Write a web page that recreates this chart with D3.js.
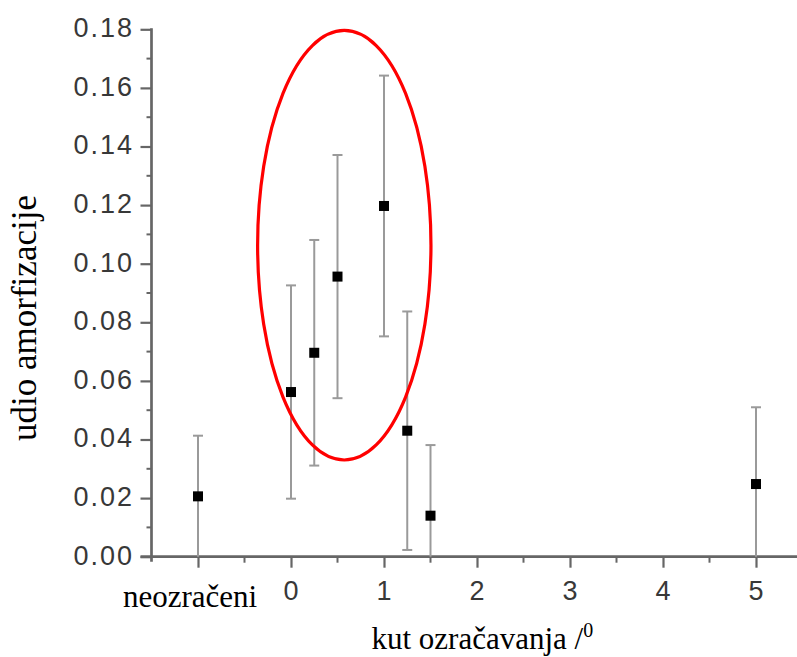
<!DOCTYPE html>
<html>
<head>
<meta charset="utf-8">
<script src="https://cdn.jsdelivr.net/npm/d3@7"></script>
<style>
  html, body { margin: 0; padding: 0; background: #fff; }
  svg { display: block; }
</style>
</head>
<body>
<svg id="chart" width="797" height="657"></svg>
<script>
// ---- data ----
const xValues = [-1, 0, 0.25, 0.5, 1, 1.25, 1.5, 5];
const yValues = [0.0206, 0.0562, 0.0696, 0.0956, 0.1197, 0.0430, 0.0140, 0.0248];
const yErrors = [0.0207, 0.0364, 0.0385, 0.0415, 0.0445, 0.0407, 0.0241, 0.0262];
const xTickValues = [0, 1, 2, 3, 4, 5];
const xTickLabels = ["0", "1", "2", "3", "4", "5"];
const xSpecialTick = -1;
const xSpecialLabel = "neozračeni";
const yTickValues = [0, 0.02, 0.04, 0.06, 0.08, 0.10, 0.12, 0.14, 0.16, 0.18];
const yTickLabels = ["0.00", "0.02", "0.04", "0.06", "0.08", "0.10", "0.12", "0.14", "0.16", "0.18"];
const xAxisTitle = "kut ozračavanja /";
const xAxisTitleSup = "0";
const yAxisTitle = "udio amorfizacije";
// highlighted region (ellipse) in data units: centre x, centre y, radius x, radius y
const ellipseCx = 0.573, ellipseCy = 0.1063, ellipseRx = 0.932, ellipseRy = 0.0733;

// ---- scales ----
const svg = d3.select("#chart");
const x = d3.scaleLinear().domain([-1.5, 5.5]).range([151.5, 802.5]);
const y = d3.scaleLinear().domain([0, 0.18]).range([556.7, 29.3]);

const axisColor = "#666";
const labelColor = "#383838";

// ---- y axis ----
const yAxisG = svg.append("g").attr("transform", `translate(${x(-1.5)},0)`);
yAxisG.call(d3.axisLeft(y).tickValues(yTickValues).tickSize(11).tickFormat(() => ""));
yAxisG.call(g => g.select(".domain").remove());
yAxisG.selectAll(".tick line").attr("stroke", axisColor).attr("stroke-width", 2.2);
// minor ticks
const yMinor = d3.range(0.01, 0.18, 0.02);
yAxisG.selectAll(".minor").data(yMinor).join("line")
  .attr("x1", -5).attr("x2", 0)
  .attr("y1", d => y(d)).attr("y2", d => y(d))
  .attr("stroke", axisColor).attr("stroke-width", 2);
yAxisG.append("line")
  .attr("x1", 0).attr("x2", 0).attr("y1", y(0.18) - 1).attr("y2", y(0) + 5)
  .attr("stroke", axisColor).attr("stroke-width", 2.7);
yAxisG.selectAll(".ylab").data(yTickValues).join("text")
  .attr("x", -17.5).attr("y", d => y(d) + 7.8)
  .attr("text-anchor", "end")
  .attr("font-family", "Liberation Sans, Arial, sans-serif")
  .attr("font-size", 27)
  .attr("letter-spacing", 2)
  .attr("fill", labelColor)
  .text((d, i) => yTickLabels[i]);

// ---- x axis ----
const xAxisG = svg.append("g").attr("transform", `translate(0,${y(0)})`);
xAxisG.call(d3.axisBottom(x).tickValues([xSpecialTick, ...xTickValues]).tickSize(11).tickFormat(() => ""));
xAxisG.call(g => g.select(".domain").remove());
xAxisG.selectAll(".tick line").attr("stroke", axisColor).attr("stroke-width", 2.2);
const xMinor = [-0.5, 0.5, 1.5, 2.5, 3.5, 4.5];
xAxisG.selectAll(".minor").data(xMinor).join("line")
  .attr("x1", d => x(d)).attr("x2", d => x(d))
  .attr("y1", 0).attr("y2", 6)
  .attr("stroke", axisColor).attr("stroke-width", 2);
xAxisG.append("line")
  .attr("x1", x(-1.5) - 11).attr("x2", 797).attr("y1", 0).attr("y2", 0)
  .attr("stroke", axisColor).attr("stroke-width", 2.7);
xAxisG.selectAll(".xlab").data(xTickValues).join("text")
  .attr("x", d => x(d)).attr("y", 43)
  .attr("text-anchor", "middle")
  .attr("font-family", "Liberation Sans, Arial, sans-serif")
  .attr("font-size", 27)
  .attr("fill", labelColor)
  .text((d, i) => xTickLabels[i]);
xAxisG.append("text")
  .attr("x", x(xSpecialTick) - 8).attr("y", 50)
  .attr("text-anchor", "middle")
  .attr("font-family", "Liberation Serif, Times New Roman, serif")
  .attr("font-size", 31)
  .attr("fill", "#000")
  .text(xSpecialLabel);

// ---- axis titles ----
const xt = svg.append("text")
  .attr("x", 371.5).attr("y", 649)
  .attr("font-family", "Liberation Serif, Times New Roman, serif")
  .attr("font-size", 31)
  .attr("fill", "#000");
xt.append("tspan").text(xAxisTitle);
xt.append("tspan").attr("dy", -12).attr("font-size", 20).text(xAxisTitleSup);

svg.append("text")
  .attr("transform", `translate(36,318) rotate(-90)`)
  .attr("text-anchor", "middle")
  .attr("font-family", "Liberation Serif, Times New Roman, serif")
  .attr("font-size", 35)
  .attr("fill", "#000")
  .text(yAxisTitle);

// ---- error bars ----
const pts = xValues.map((xv, i) => ({ x: xv, v: yValues[i], e: yErrors[i] }));
const eb = svg.append("g");
const barColor = "#9a9a9a";
pts.forEach(p => {
  const lo = Math.max(0, p.v - p.e);
  const hi = p.v + p.e;
  eb.append("line")
    .attr("x1", x(p.x)).attr("x2", x(p.x))
    .attr("y1", y(hi)).attr("y2", y(lo))
    .attr("stroke", barColor).attr("stroke-width", 2);
  eb.append("line")
    .attr("x1", x(p.x) - 5).attr("x2", x(p.x) + 5)
    .attr("y1", y(hi)).attr("y2", y(hi))
    .attr("stroke", barColor).attr("stroke-width", 2);
  if (p.v - p.e >= 0) {
    eb.append("line")
      .attr("x1", x(p.x) - 5).attr("x2", x(p.x) + 5)
      .attr("y1", y(lo)).attr("y2", y(lo))
      .attr("stroke", barColor).attr("stroke-width", 2);
  }
});

// ---- markers ----
svg.append("g").selectAll("rect").data(pts).join("rect")
  .attr("x", d => x(d.x) - 5).attr("y", d => y(d.v) - 5)
  .attr("width", 10).attr("height", 10)
  .attr("fill", "#000");

// ---- highlight ellipse ----
svg.append("ellipse")
  .attr("cx", x(ellipseCx)).attr("cy", y(ellipseCy))
  .attr("rx", x(ellipseCx + ellipseRx) - x(ellipseCx))
  .attr("ry", y(ellipseCy - ellipseRy) - y(ellipseCy))
  .attr("fill", "none")
  .attr("stroke", "#ff0000")
  .attr("stroke-width", 3.2);
</script>
</body>
</html>
